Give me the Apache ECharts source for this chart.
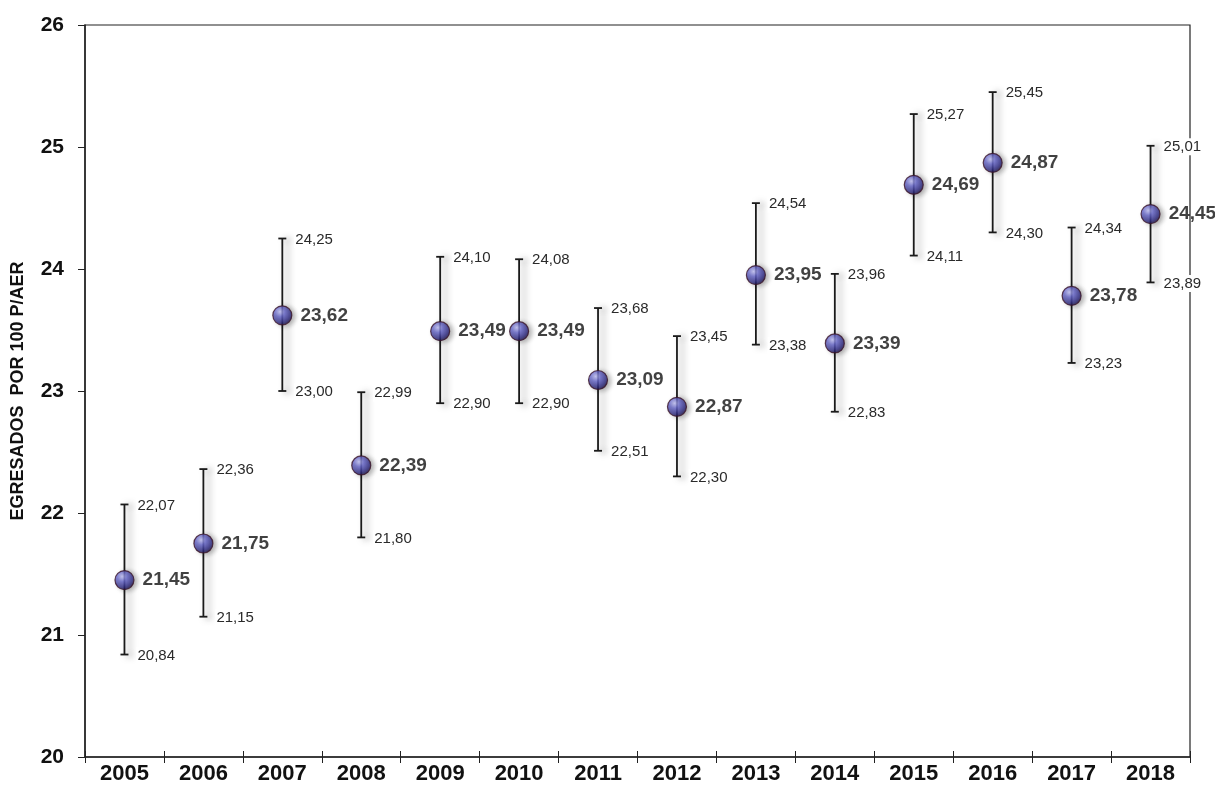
<!DOCTYPE html>
<html><head><meta charset="utf-8">
<script src="https://cdn.jsdelivr.net/npm/echarts@6/dist/echarts.min.js"></script>
<style>html,body{margin:0;padding:0;background:#fff}#c{width:1215px;height:787px}</style>
</head><body><div id="c"></div>
<script>
const years = ['2005','2006','2007','2008','2009','2010','2011','2012','2013','2014','2015','2016','2017','2018'];
const meanValues = [21.45,21.75,23.62,22.39,23.49,23.49,23.09,22.87,23.95,23.39,24.69,24.87,23.78,24.45];
const upperValues = [22.07,22.36,24.25,22.99,24.10,24.08,23.68,23.45,24.54,23.96,25.27,25.45,24.34,25.01];
const lowerValues = [20.84,21.15,23.00,21.80,22.90,22.90,22.51,22.30,23.38,22.83,24.11,24.30,23.23,23.89];
const yTicks = [20,21,22,23,24,25,26];

const FONT = 'Liberation Sans, Arial, sans-serif';
const fmt = v => v.toFixed(2).replace('.', ',');
const chart = echarts.init(document.getElementById('c'));
const errData = years.map((y,i)=>[i, lowerValues[i], upperValues[i]]);
const meanData = years.map((y,i)=>[i, meanValues[i]]);

chart.setOption({
  animation:false,
  grid:{left:85,right:25,top:25,bottom:30,show:true,borderColor:'#222',borderWidth:1.2,
        containLabel:false,outerBoundsMode:'none'},
  xAxis:[{type:'category',data:years,boundaryGap:true,
    axisLine:{lineStyle:{color:'#222',width:1.5}},
    axisTick:{show:true,alignWithLabel:false,length:6,lineStyle:{color:'#222'}},
    axisLabel:{color:'#111',fontWeight:'bold',fontSize:22,fontFamily:FONT,margin:6},
    splitLine:{show:false}},
    {type:'category',data:years,boundaryGap:true,position:'bottom',
    axisLine:{show:false},
    axisTick:{show:true,inside:true,length:6,lineStyle:{color:'#222'}},
    axisLabel:{show:false},splitLine:{show:false}}],
  yAxis:{type:'value',min:yTicks[0],max:yTicks[yTicks.length-1],interval:1,
    name:'EGRESADOS  POR 100 P/AER',nameLocation:'middle',nameGap:58,
    nameTextStyle:{color:'#111',fontWeight:'bold',fontSize:18,fontFamily:FONT},
    axisLine:{show:true,lineStyle:{color:'#222',width:1.5}},
    axisTick:{show:true,length:7,lineStyle:{color:'#222'}},
    axisLabel:{color:'#111',fontWeight:'bold',fontSize:21,fontFamily:FONT,margin:21},
    splitLine:{show:false}},
  series:[
    {type:'custom',data:errData,z:2,
     renderItem:function(params,api){
       const x = api.value(0);
       const lo = api.coord([x, api.value(1)]);
       const hi = api.coord([x, api.value(2)]);
       const cap = 4;
       const shadow = {shadowColor:'rgba(0,0,0,0.4)',shadowBlur:7,shadowOffsetX:5,shadowOffsetY:1};
       const ls = Object.assign({stroke:'#1a1a1a',lineWidth:1.8},shadow);
       const ts = {fill:'#2a2a2a',fontSize:15,fontFamily:FONT,verticalAlign:'middle',align:'left',backgroundColor:'#fff',padding:[1,1]};
       return {type:'group',children:[
         {type:'line',shape:{x1:hi[0],y1:hi[1],x2:lo[0],y2:lo[1]},style:ls},
         {type:'line',shape:{x1:hi[0]-cap,y1:hi[1],x2:hi[0]+cap,y2:hi[1]},style:ls},
         {type:'line',shape:{x1:lo[0]-cap,y1:lo[1],x2:lo[0]+cap,y2:lo[1]},style:ls},
         {type:'text',x:hi[0]+12,y:hi[1]+1,style:Object.assign({text:fmt(api.value(2))},ts)},
         {type:'text',x:lo[0]+12,y:lo[1]+1,style:Object.assign({text:fmt(api.value(1))},ts)}
       ]};
     }},
    {type:'scatter',data:meanData,z:5,symbol:'circle',symbolSize:19,
     itemStyle:{
       color:{type:'radial',x:0.38,y:0.32,r:0.7,colorStops:[
         {offset:0,color:'#c8c8ff'},{offset:0.35,color:'#6a6ad0'},{offset:0.75,color:'#34308a'},{offset:1,color:'#1a1040'}]},
       borderColor:'#3a1428',borderWidth:1.2,
       shadowColor:'rgba(0,0,0,0.35)',shadowBlur:5,shadowOffsetX:3,shadowOffsetY:1},
     label:{show:true,position:'right',distance:8,formatter:p=>fmt(p.value[1]),
       color:'#111',fontWeight:'bold',fontSize:19,fontFamily:FONT}}
  ]
});
</script></body></html>
